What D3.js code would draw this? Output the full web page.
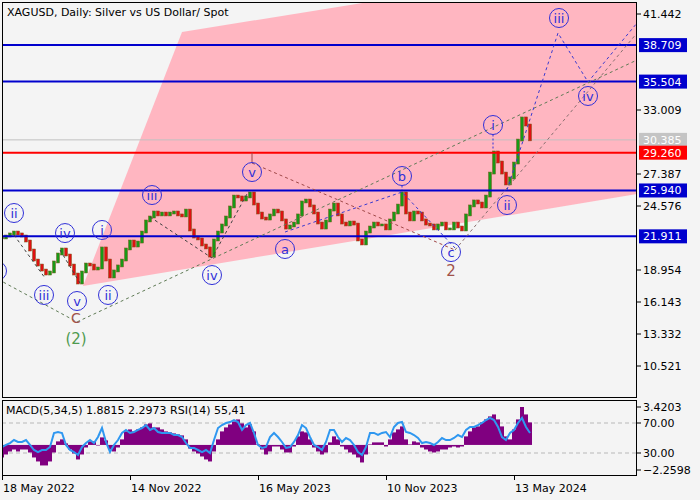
<!DOCTYPE html>
<html><head><meta charset="utf-8">
<script src="https://cdn.jsdelivr.net/npm/d3@7"></script>
<style>body{margin:0;background:#f4f4f4;} svg{display:block;font-family:"DejaVu Sans",sans-serif;}</style>
</head><body><svg id="c" width="700" height="500"></svg>
<script>
// ---- data (sampled every 4 daily bars) ----
const closes = [21.77,21.94,22.12,22.29,22.12,21.94,21.50,20.71,19.83,19.39,18.95,18.60,18.78,19.66,20.36,20.80,20.27,19.39,18.60,17.81,
18.78,19.48,19.39,19.04,19.13,20.89,19.83,18.34,18.87,19.31,19.83,20.80,21.50,21.06,21.41,22.29,23.26,23.61,24.05,23.79,
23.96,23.79,23.96,24.05,23.79,23.70,24.22,22.47,21.85,21.68,21.15,20.89,20.18,21.59,22.29,22.91,23.61,24.49,25.45,25.37,
25.10,25.37,25.72,24.75,23.96,23.52,23.43,23.79,24.22,24.05,23.35,22.64,22.82,23.08,23.79,24.93,25.10,24.58,23.96,23.08,
22.64,23.26,24.22,24.75,23.79,23.08,22.91,23.17,22.99,21.59,21.24,22.29,22.73,23.08,22.91,22.91,22.56,23.35,23.96,24.66,
25.72,23.96,23.35,24.05,23.96,23.35,22.99,22.91,22.56,22.91,23.08,22.56,22.56,23.08,22.73,22.47,23.79,24.58,25.02,24.84,
24.49,25.45,27.47,29.32,28.44,27.47,26.51,27.04,28.35,30.37,32.31,31.69,30.385];
const macdHist = [-1.13,-0.86,-0.59,-0.41,-0.59,-0.41,-0.41,-0.68,-1.13,-1.49,-1.85,-1.85,-1.49,-0.68,0.32,0.50,0.14,-0.41,-0.77,-1.31,
-0.86,-0.23,0.32,0.32,-0.05,0.68,0.41,-0.41,-0.59,-0.23,0.50,1.22,1.40,1.22,1.40,1.58,1.85,1.94,1.58,1.58,
1.40,1.22,1.13,1.04,0.95,0.86,0.50,-0.32,-0.59,-0.77,-1.04,-1.31,-1.49,-0.59,0.50,1.22,1.58,1.85,2.12,2.30,
1.94,1.58,1.85,1.22,0.05,-0.41,-0.86,-0.59,-0.14,-0.14,-0.41,-0.68,-0.68,-0.14,0.77,1.22,1.13,0.50,-0.23,-0.59,
-0.86,-0.68,0.23,0.77,0.50,-0.14,-0.41,-0.68,-0.86,-1.13,-1.58,-0.86,0.05,0.23,0.23,0.23,-0.14,0.50,1.13,1.40,
1.67,0.50,0.05,0.32,0.23,-0.23,-0.41,-0.59,-0.68,-0.59,-0.41,-0.41,-0.23,-0.14,-0.23,-0.14,0.77,1.22,1.58,1.67,
2.03,2.30,2.57,2.75,2.30,1.67,0.77,0.50,1.40,2.30,3.42,2.75,2.03];
const rsiVals = [38.0,40.7,43.3,47.3,44.7,44.7,47.3,40.7,34.0,31.3,34.0,34.0,38.0,56.7,58.0,56.7,40.7,34.0,31.3,27.3,
38.0,43.3,47.3,43.3,51.3,63.3,44.7,31.3,40.7,47.3,56.7,60.7,56.7,58.0,60.7,63.3,67.3,60.7,63.3,58.0,
56.7,56.7,56.7,54.0,54.0,51.3,43.3,36.7,36.7,34.0,31.3,34.0,30.0,47.3,63.3,67.3,70.0,71.3,74.0,71.3,
60.7,67.3,70.0,56.7,40.7,36.7,38.0,51.3,56.7,51.3,44.7,36.7,38.0,44.7,54.0,67.3,63.3,51.3,40.7,38.0,
34.0,44.7,60.7,60.7,51.3,44.7,50.0,47.3,40.7,31.3,27.3,38.0,56.7,56.7,54.0,56.7,58.0,51.3,64.7,70.0,
71.3,58.0,56.7,54.0,50.0,43.3,44.7,43.3,40.7,44.7,50.0,47.3,47.3,50.0,54.0,51.3,60.7,64.7,64.7,67.3,
70.0,74.0,76.7,74.0,64.7,51.3,47.3,56.7,60.7,70.0,76.7,64.7,56.7];
const dateTickIdx = [0,32,64,96,128];
const dateLabels = ["18 May 2022","14 Nov 2022","16 May 2023","10 Nov 2023","13 May 2024"];
const priceTicks = [41.442,33.009,27.387,24.576,18.954,16.143,13.332,10.521];
const blueLevels = [38.709,35.504,25.940,21.911];
const redLevel = 29.260;
const lastPrice = 30.385;
const macdTicks = [3.4203,-2.2598];
const rsiTicks = [70,30];
const channel = [[20.25,17.55],[45,39.86],[93.5,42.6],[160,42.6],[160,25.70]];
const lineOlive = [[-1,18.14],[18.75,14.39],[158.75,37.40]];
const lineGrey = [[113.25,20.71],[158.75,39.77]];
const lineBrown = [[62.5,28.35],[113.25,20.71]];
const lineABC = [[70.75,22.29],[100,25.80],[113.25,20.89]];
const lineProj = [[126.25,25.98],[139,39.77],[146.5,35.47],[158.75,40.65]];
const linesDark = [[[3,22.03],[10.75,18.25]],[[14.5,20.71],[19.5,17.81]],[[37,23.61],[52.5,20.01],[61.5,25.80]]];
const edgeCircle = {i:-1.25,p:18.87};
const waveLabels = [
 {t:"ii",i:3,p:23.96},{t:"iii",i:10.5,p:16.76},{t:"iv",i:15.75,p:22.20},
 {t:"v",i:18.75,p:16.23},{t:"i",i:25,p:22.47},{t:"ii",i:26.5,p:16.76},{t:"iii",i:37.5,p:25.54},
 {t:"iv",i:52.5,p:18.51},{t:"v",i:62.5,p:27.56,tip:29.26},{t:"a",i:70.75,p:20.80},{t:"b",i:100,p:27.21,tip:25.98},
 {t:"c",i:112.25,p:20.53},{t:"i",i:122.75,p:31.69,tip:29.49},{t:"ii",i:126.25,p:24.66},
 {t:"iii",i:139.25,p:41.09},{t:"iv",i:146.5,p:34.24}];
const degreeLabels = [{t:"C",i:18.5,p:14.74,k:"brown"},{t:"(2)",i:18.5,p:12.89,k:"green"},{t:"2",i:112.25,p:18.87,k:"brown"}];

// ---- drawing ----
const svg = d3.select("#c");
const L=2,R=637,T=2,B=398,MT=400,MB=476;
const x = d3.scaleLinear().domain([0, closes.length-1]).range([2,530]);
const y = d3.scaleLinear().domain([10.521,41.442]).range([366,14]);
const ym = d3.scaleLinear().domain([-2.2598,3.4203]).range([470,407]);
const yr = d3.scaleLinear().domain([30,70]).range([453,423]);
const colors = {blue:"#0000cd", red:"#ff0000", wave:"#3030d8", brown:"#a0524a", green:"#4f9a4f"};

svg.append("rect").attr("width",700).attr("height",500).attr("fill","#f4f4f4");
const defs = svg.append("defs");
defs.append("clipPath").attr("id","mc").append("rect").attr("x",L).attr("y",T).attr("width",R-L).attr("height",B-T);
defs.append("clipPath").attr("id","sc").append("rect").attr("x",L).attr("y",MT).attr("width",R-L).attr("height",MB-MT);
const g = svg.append("g").attr("clip-path","url(#mc)");
const line = d3.line().x(d=>x(d[0])).y(d=>y(d[1]));

g.append("path").attr("d", line(channel)+"Z").attr("fill","#ffb6c1");
g.append("line").attr("x1",L).attr("x2",R).attr("y1",y(lastPrice)).attr("y2",y(lastPrice)).attr("stroke","#c0c0c0").attr("stroke-width",1);

// candles
const bars = closes.map((c,i)=>({i,o:i?closes[i-1]:c,c}));
g.selectAll("rect.cd").data(bars).join("rect").attr("class","cd")
 .attr("x",d=>x(d.i)-1.5).attr("width",3)
 .attr("y",d=>y(Math.max(d.o,d.c))-1).attr("height",d=>Math.abs(y(d.o)-y(d.c))+2)
 .attr("fill",d=>d.c>=d.o?"#169a16":"#e01010").attr("stroke","#7a5a1e").attr("stroke-width",0.5);

// level lines
blueLevels.forEach(v=>g.append("line").attr("x1",L).attr("x2",R).attr("y1",y(v)).attr("y2",y(v)).attr("stroke",colors.blue).attr("stroke-width",2));
g.append("line").attr("x1",L).attr("x2",R).attr("y1",y(redLevel)).attr("y2",y(redLevel)).attr("stroke",colors.red).attr("stroke-width",2);

// dashed wave lines
const dl = (pts,col,dash)=>g.append("path").attr("d",line(pts)).attr("fill","none").attr("stroke",col).attr("stroke-width",1).attr("stroke-dasharray",dash||"3,3");
dl(lineOlive,"#5f7a55");
dl(lineGrey,"#8a7070");
dl(lineBrown,"#a04848");
dl(lineABC,"#3a3ad0");
dl(lineProj,"#3a3ad0");
linesDark.forEach(p=>dl(p,"#404040"));

// wave labels
const r=9.5;
g.append("circle").attr("cx",x(edgeCircle.i)).attr("cy",y(edgeCircle.p)).attr("r",r).attr("fill","none").attr("stroke",colors.wave);
waveLabels.forEach(d=>{
  const cx=x(d.i), cy=y(d.p);
  if(d.tip!==undefined){
    const ty=y(d.tip); const y0 = ty<cy? cy-r: cy+r;
    g.append("line").attr("x1",cx).attr("x2",cx).attr("y1",y0).attr("y2",ty).attr("stroke",d.t==="v"?"#a04848":colors.wave).attr("stroke-width",1).attr("stroke-dasharray",d.t==="v"?null:"2,2");
  }
  g.append("circle").attr("cx",cx).attr("cy",cy).attr("r",r).attr("fill","none").attr("stroke",colors.wave).attr("stroke-width",1);
  g.append("text").attr("x",cx).attr("y",cy).attr("dy","0.36em").attr("text-anchor","middle")
   .attr("font-size",13).attr("fill",colors.wave).text(d.t);
});
degreeLabels.forEach(d=>{
  g.append("text").attr("x",x(d.i)).attr("y",y(d.p)).attr("dy","0.36em").attr("text-anchor","middle")
   .attr("font-size",d.t==="C"?14:15).attr("fill",colors[d.k]).text(d.t);
});

// title
svg.append("text").attr("x",7).attr("y",16).attr("font-size",11).attr("fill","#000").text("XAGUSD, Daily:  Silver vs US Dollar/ Spot");

// frames
svg.append("rect").attr("x",L+0.5).attr("y",T+0.5).attr("width",R-L-1).attr("height",B-T-1).attr("fill","none").attr("stroke","#000");

// price axis
priceTicks.forEach(v=>{
  svg.append("line").attr("x1",R).attr("x2",R+4).attr("y1",y(v)).attr("y2",y(v)).attr("stroke","#000");
  svg.append("text").attr("x",643).attr("y",y(v)).attr("dy","0.36em").attr("font-size",11).text(d3.format(".3f")(v));
});
const boxLabel=(v,bg,fg)=>{
  svg.append("rect").attr("x",639).attr("y",y(v)-7).attr("width",48).attr("height",14).attr("fill",bg);
  svg.append("text").attr("x",643).attr("y",y(v)).attr("dy","0.36em").attr("font-size",11).attr("fill",fg).text(d3.format(".3f")(v));
};
boxLabel(lastPrice,"#c4c4c4","#ffffff");
blueLevels.forEach(v=>boxLabel(v,colors.blue,"#ffffff"));
boxLabel(redLevel,colors.red,"#ffffff");

// MACD/RSI panel
const s = svg.append("g").attr("clip-path","url(#sc)");
rsiTicks.forEach(v=>s.append("line").attr("x1",L).attr("x2",R).attr("y1",yr(v)).attr("y2",yr(v)).attr("stroke","#b8b8b8").attr("stroke-dasharray","4,3"));
s.selectAll("rect.h").data(macdHist).join("rect").attr("class","h")
 .attr("x",(d,i)=>x(i)-2).attr("width",4)
 .attr("y",d=>Math.min(ym(0),ym(d))).attr("height",d=>Math.abs(ym(d)-ym(0)))
 .attr("fill","#800080");
s.append("path").datum(rsiVals).attr("d",d3.line().x((d,i)=>x(i)).y(d=>yr(d)))
 .attr("fill","none").attr("stroke","#2e97f0").attr("stroke-width",2);
svg.append("text").attr("x",6).attr("y",414).attr("font-size",11).text("MACD(5,34,5) 1.8815 2.2973 RSI(14) 55,41");
svg.append("rect").attr("x",L+0.5).attr("y",MT+0.5).attr("width",R-L-1).attr("height",MB-MT-1).attr("fill","none").attr("stroke","#000");
macdTicks.forEach(v=>{
  svg.append("line").attr("x1",R).attr("x2",R+4).attr("y1",ym(v)).attr("y2",ym(v)).attr("stroke","#000");
  svg.append("text").attr("x",643).attr("y",ym(v)).attr("dy","0.36em").attr("font-size",11).text(d3.format(".4f")(v));
});
rsiTicks.forEach(v=>{
  svg.append("line").attr("x1",R).attr("x2",R+4).attr("y1",yr(v)).attr("y2",yr(v)).attr("stroke","#000");
  svg.append("text").attr("x",643).attr("y",yr(v)).attr("dy","0.36em").attr("font-size",11).text(d3.format(".2f")(v));
});

// date axis
dateTickIdx.forEach((t,k)=>{
  svg.append("line").attr("x1",x(t)+0.5).attr("x2",x(t)+0.5).attr("y1",MB).attr("y2",MB+4).attr("stroke","#000");
  svg.append("text").attr("x",x(t)+1).attr("y",492).attr("font-size",11).text(dateLabels[k]);
});
</script></body></html>
